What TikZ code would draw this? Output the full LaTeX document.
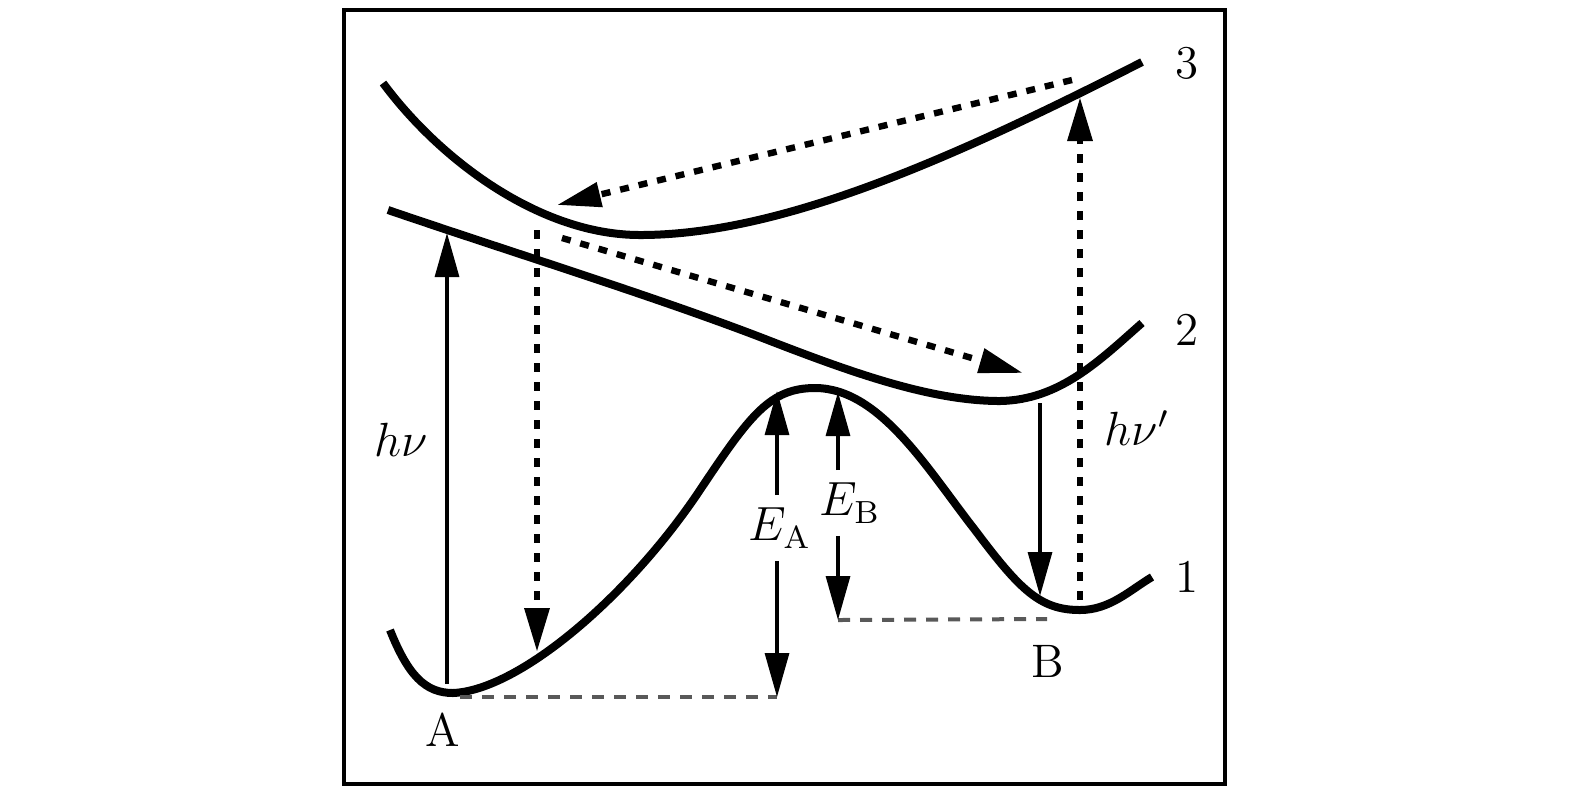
\documentclass[tikz,border=0pt]{standalone}
\usetikzlibrary{arrows.meta}
\begin{document}
\begin{tikzpicture}[
    x=0.25pt, y=-0.25pt,
    curve/.style={line width=2pt},
    headed/.style={-{Triangle[length=11pt, width=6pt]}},
    solidarrow/.style={headed, line width=0.8pt},
    dasharrow/.style={headed, line width=1.6pt, dash pattern=on 2.25pt off 2.5pt},
    level/.style={line width=1pt, black!65, dash pattern=on 3pt off 2.5pt},
    lbl/.style={inner sep=0pt, font=\fontsize{11.75}{14}\selectfont},
  ]
    \useasboundingbox (0,0) rectangle (1575,797);
    \draw[line width=0.8pt] (344,10) rectangle (1225,784);
    % potential curves 3, 2, 1
    \draw[curve] (383,83) .. controls (440,160) and (540,235) .. (640,235)
      .. controls (780,235) and (950,160) .. (1142,62);
    \draw[curve] (388,210) .. controls (520,255) and (650,295) .. (760,337)
      .. controls (850,372) and (930,401) .. (1000,401)
      .. controls (1060,400) and (1100,360) .. (1142,323);
    \draw[curve] (390,630) .. controls (408,675) and (425,693) .. (453,693)
      .. controls (520,690) and (630,595) .. (700,490)
      .. controls (750,415) and (770,388) .. (815,388)
      .. controls (880,388) and (928,470) .. (975,530)
      .. controls (1020,590) and (1040,610) .. (1080,610)
      .. controls (1110,610) and (1130,590) .. (1152,577);
    % labels
    \foreach \n/\y in {3/63, 2/330, 1/577}
        \node[lbl] (lvl\n) at (1187,\y) {\n};
    \node[lbl] (A) at (443,730) {A};
    \node[lbl] (B) at (1048,661) {B};
    \node[lbl] (hv) at (401,440) {$h\nu$};
    \node[lbl] (hvp) at (1137,428) {$h\nu'$};
    \node[lbl, inner sep=3pt] (EA) at (780,528) {$E_{\mathrm{A}}$};
    \node[lbl, inner sep=3pt] (EB) at (850,503) {$E_{\mathrm{B}}$};
    % end points
    \coordinate (hvbot) at (447,684);
    \coordinate (hvtop) at (447,233);
    \coordinate (dlt) at (537,230);
    \coordinate (dlb) at (537,652);
    \coordinate (drb) at (1080,600);
    \coordinate (drt) at (1080,97);
    \coordinate (s3) at (1072,80);
    \coordinate (e3) at (557,205);
    \coordinate (s2) at (562,238);
    \coordinate (e2) at (1023,373);
    \coordinate (bt) at (1040,403);
    \coordinate (bb) at (1040,596);
    \coordinate (eatop) at (777,391);
    \coordinate (eabot) at (777,697);
    \coordinate (ebtop) at (838,392);
    \coordinate (ebbot) at (838,620);
    \coordinate (aend) at (460,697);
    \coordinate (bend) at (1047,619);
    % transitions
    \draw[solidarrow] (hvbot) -- (hvtop);
    \draw[dasharrow] (dlt) -- (dlb);
    \draw[dasharrow] (drb) -- (drt);
    \draw[dasharrow] (s3) -- (e3);
    \draw[dasharrow] (s2) -- (e2);
    \draw[solidarrow] (bt) -- (bb);
    % barriers
    \draw[level] (aend) -- (eabot);
    \draw[level] (ebbot) -- (bend);
    \draw[solidarrow] (EA.north -| eatop) -- (eatop);
    \draw[solidarrow] (EA.south -| eabot) -- (eabot);
    \draw[solidarrow] (EB.north -| ebtop) -- (ebtop);
    \draw[solidarrow] (EB.south -| ebbot) -- (ebbot);
\end{tikzpicture}
\end{document}
